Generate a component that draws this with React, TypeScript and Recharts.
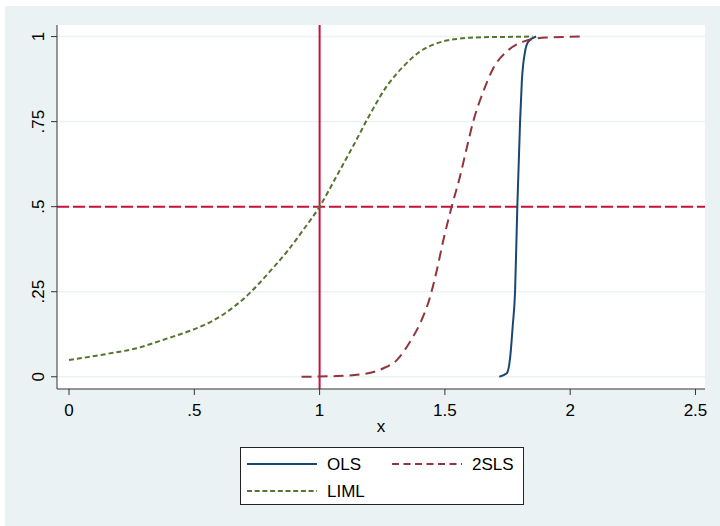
import React from "react";
import { LineChart, Line, XAxis, YAxis, CartesianGrid, ReferenceLine } from "recharts";

const olsX = [1.717, 1.747, 1.76, 1.771, 1.78, 1.789, 1.8, 1.807, 1.82, 1.833, 1.864];
const olsY = [0, 0.01, 0.054, 0.152, 0.25, 0.5, 0.75, 0.868, 0.956, 0.985, 1.0];

const tslsX = [0.928, 1.068, 1.175, 1.255, 1.308, 1.361, 1.401, 1.441, 1.468, 1.494, 1.527, 1.56, 1.587, 1.613, 1.653, 1.693, 1.747, 1.813, 1.906, 2.052];
const tslsY = [0, 0.002, 0.008, 0.025, 0.049, 0.103, 0.157, 0.235, 0.314, 0.402, 0.5, 0.588, 0.672, 0.75, 0.838, 0.907, 0.956, 0.985, 0.997, 1.0];

const limlX = [0, 0.15, 0.27, 0.39, 0.497, 0.577, 0.657, 0.724, 0.79, 0.869, 0.935, 1.0, 1.068, 1.135, 1.2, 1.267, 1.334, 1.4, 1.467, 1.547, 1.65, 1.75, 1.85];
const limlY = [0.049, 0.067, 0.084, 0.112, 0.139, 0.166, 0.205, 0.248, 0.3, 0.367, 0.432, 0.5, 0.59, 0.68, 0.77, 0.853, 0.912, 0.956, 0.98, 0.993, 0.998, 0.999, 1.0];

const xTicks = [0, 0.5, 1, 1.5, 2, 2.5];
const xTickLabels = ["0", ".5", "1", "1.5", "2", "2.5"];
const yTicks = [0, 0.25, 0.5, 0.75, 1];
const yTickLabels = ["0", ".25", ".5", ".75", "1"];

const seriesNames = ["OLS", "2SLS", "LIML"];

const toRows = (xs: number[], ys: number[]) => xs.map((x, i) => ({ x, y: ys[i] }));
const olsData = toRows(olsX, olsY);
const tslsData = toRows(tslsX, tslsY);
const limlData = toRows(limlX, limlY);

const FONT = "'Liberation Sans', Arial, sans-serif";
const FS = 17;
const BG = "#EAF2F3";
const NAVY = "#1A476F";
const MAROON = "#90353B";
const GREEN = "#55752F";
const RED = "#C8103C";

const fmtX = (v: number) => {
  const i = xTicks.indexOf(v);
  return i >= 0 ? xTickLabels[i] : String(v);
};
const fmtY = (v: number) => {
  const i = yTicks.indexOf(v);
  return i >= 0 ? yTickLabels[i] : String(v);
};

const YTick = (props: any) => {
  const { x, y, payload } = props;
  const cx = x - 10;
  return (
    <text
      x={cx}
      y={y}
      transform={`rotate(-90 ${cx} ${y})`}
      textAnchor="middle"
      dominantBaseline="central"
      fontSize={FS}
      fontFamily={FONT}
      fill="#000"
    >
      {fmtY(payload.value)}
    </text>
  );
};

const Legend = () => (
  <svg
    width={284}
    height={58}
    style={{ position: "absolute", left: 235, top: 441 }}
  >
    <rect x={0.5} y={0.5} width={283} height={57} fill="#fff" stroke="#222" strokeWidth={1} />
    <line x1={7} x2={77} y1={17} y2={17} stroke={NAVY} strokeWidth={2} />
    <text x={87} y={17} dominantBaseline="central" fontSize={FS} fontFamily={FONT} fill="#000">
      {seriesNames[0]}
    </text>
    <line x1={152} x2={222} y1={17} y2={17} stroke={MAROON} strokeWidth={2} strokeDasharray="7 4.5" />
    <text x={232} y={17} dominantBaseline="central" fontSize={FS} fontFamily={FONT} fill="#000">
      {seriesNames[1]}
    </text>
    <line x1={7} x2={77} y1={44} y2={44} stroke={GREEN} strokeWidth={2} strokeDasharray="5 2.7" />
    <text x={87} y={44} dominantBaseline="central" fontSize={FS} fontFamily={FONT} fill="#000">
      {seriesNames[2]}
    </text>
  </svg>
);

export default function App() {
  return (
    <div
      style={{
        position: "absolute",
        left: 5,
        top: 6,
        width: 715,
        height: 520,
        background: BG,
        fontFamily: FONT,
      }}
    >
      <LineChart
        width={715}
        height={520}
        margin={{ top: 19, right: 15, left: 0, bottom: 77 }}
      >
        <CartesianGrid
          fill="#fff"
          stroke={BG}
          strokeWidth={1.5}
          vertical={false}
          horizontalValues={yTicks}
        />
        <XAxis
          type="number"
          dataKey="x"
          domain={[-0.048, 2.538]}
          allowDataOverflow
          ticks={xTicks}
          tickFormatter={fmtX}
          tick={{ fontSize: FS, fill: "#000", fontFamily: FONT }}
          tickSize={6}
          tickMargin={9}
          height={60}
          stroke="#333"
          label={{ value: "x", position: "insideBottom", offset: 17, fontSize: FS, fill: "#000", fontFamily: FONT }}
        />
        <YAxis
          type="number"
          dataKey="y"
          domain={[-0.036, 1.034]}
          allowDataOverflow
          ticks={yTicks}
          tick={<YTick />}
          tickSize={6}
          tickMargin={2}
          width={52}
          stroke="#333"
        />
        <ReferenceLine x={1} stroke={RED} strokeWidth={2} />
        <ReferenceLine y={0.5} stroke={RED} strokeWidth={2} strokeDasharray="12 4" />
        <Line
          data={olsData}
          dataKey="y"
          name={seriesNames[0]}
          type="monotone"
          stroke={NAVY}
          strokeWidth={2}
          dot={false}
          isAnimationActive={false}
        />
        <Line
          data={tslsData}
          dataKey="y"
          name={seriesNames[1]}
          type="monotone"
          stroke={MAROON}
          strokeWidth={2}
          strokeDasharray="10 6"
          dot={false}
          isAnimationActive={false}
        />
        <Line
          data={limlData}
          dataKey="y"
          name={seriesNames[2]}
          type="monotone"
          stroke={GREEN}
          strokeWidth={2}
          strokeDasharray="5 3"
          dot={false}
          isAnimationActive={false}
        />
      </LineChart>
      <Legend />
    </div>
  );
}
